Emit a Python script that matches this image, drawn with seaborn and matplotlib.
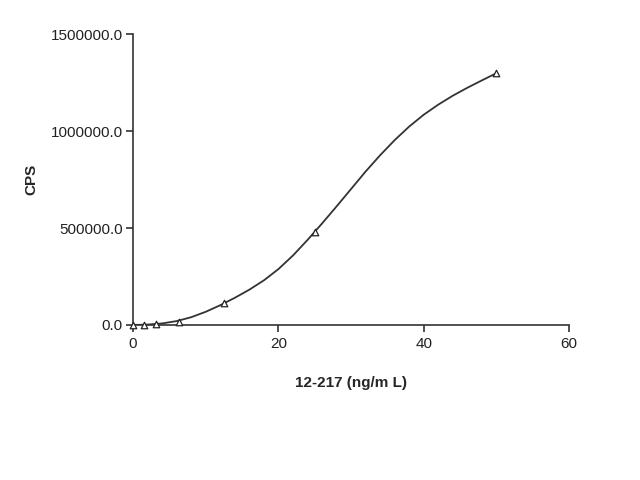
import matplotlib
matplotlib.use('Agg')
import matplotlib.pyplot as plt
import seaborn as sns
import pandas as pd
from matplotlib.ticker import FormatStrFormatter

# measured standards (ng/mL vs CPS)
conc = [0, 1.5625, 3.125, 6.25, 12.5, 25, 50]
cps = [0, 1000, 4000, 14000, 114000, 479000, 1300000]

# fitted curve
curve_x = [0, 2, 4, 6, 8, 10, 12, 14, 16, 18, 20, 22, 24, 26, 28, 30,
           32, 34, 36, 38, 40, 42, 44, 46, 48, 50]
curve_y = [0, 2000, 8000, 20000, 40000, 68000, 102000, 140000, 182000,
           230000, 288000, 358000, 438000, 523000, 611000, 701000,
           791000, 875000, 953000, 1023000, 1084000, 1136000, 1182000,
           1223000, 1261000, 1298000]

x_ticks = [0, 20, 40, 60]
y_ticks = [0, 500000, 1000000, 1500000]

sns.set_style('ticks')
plt.rcParams['font.family'] = ['Liberation Sans', 'DejaVu Sans']

pts = pd.DataFrame({'conc': conc, 'cps': cps})
fit = pd.DataFrame({'conc': curve_x, 'cps': curve_y})

fig = plt.figure(figsize=(6.4, 4.8), dpi=100)
ax = fig.add_axes([0.208, 0.323, 0.681, 0.606])

sns.lineplot(data=fit, x='conc', y='cps', ax=ax, color='#333333', lw=1.3)
sns.scatterplot(data=pts, x='conc', y='cps', ax=ax, marker='^', s=22,
                facecolor='white', edgecolor='#222222', linewidth=0.9,
                zorder=3, clip_on=False)

ax.set_xlim(0, 60)
ax.set_ylim(0, 1500000)
ax.set_xticks(x_ticks)
ax.set_yticks(y_ticks)
ax.yaxis.set_major_formatter(FormatStrFormatter('%.1f'))
ax.tick_params(length=5, width=1.1, colors='#222222', labelsize=11, pad=2.5)
ax.tick_params(axis='x', pad=4)
for s in ['left', 'bottom']:
    ax.spines[s].set_linewidth(1.2)
    ax.spines[s].set_color('#333333')
sns.despine(ax=ax)

ax.set_xlabel('12-217 (ng/m L)', fontsize=11, fontweight='bold', labelpad=18)
ax.set_ylabel('CPS', fontsize=11, fontweight='bold', labelpad=9)

fig.savefig('out.png', dpi=100)
